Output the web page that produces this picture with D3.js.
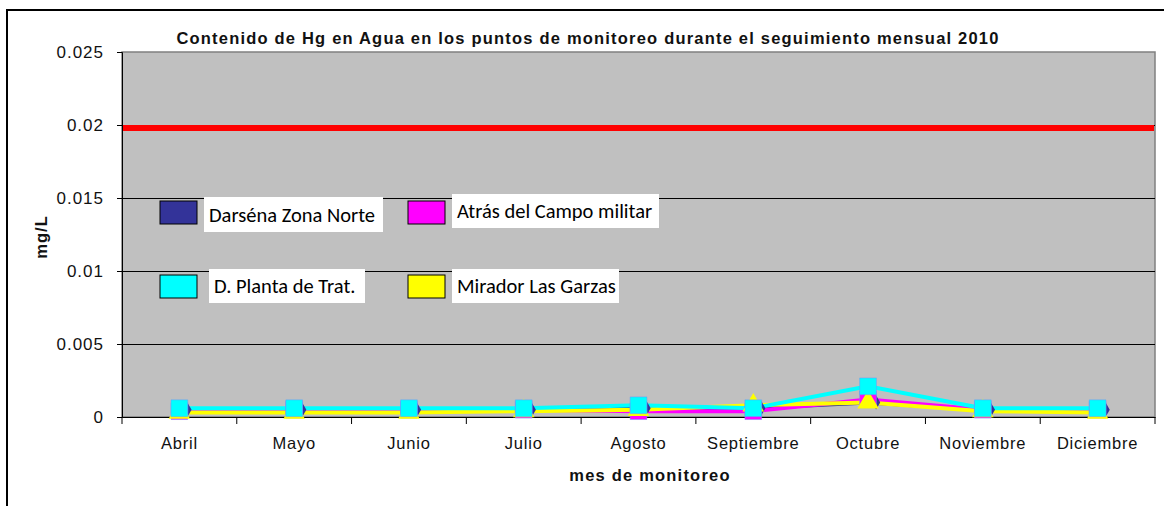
<!DOCTYPE html>
<html>
<head>
<meta charset="utf-8">
<script src="https://cdn.jsdelivr.net/npm/d3@7"></script>
<style>
body { margin: 0; background: white; }
svg text { font-family: Arial, "Liberation Sans", sans-serif; }
svg text.legend-label { font-family: Carlito, Lato, "Open Sans", sans-serif; }
</style>
</head>
<body>
<svg id="chart"></svg>
<script>
// data
var months = ["Abril", "Mayo", "Junio", "Julio", "Agosto", "Septiembre", "Octubre", "Noviembre", "Diciembre"];
var darsena = [0.0005, 0.0005, 0.0005, 0.0005, 0.0006, 0.0006, 0.0010, 0.0005, 0.0005];
var atras = [0.0004, 0.0005, 0.0005, 0.0005, 0.0004, 0.0004, 0.0012, 0.0005, 0.0005];
var mirador = [0.0003, 0.0003, 0.0003, 0.0004, 0.0005, 0.0008, 0.0010, 0.0004, 0.0003];
var planta = [0.0006, 0.0006, 0.0006, 0.0006, 0.0008, 0.0006, 0.0021, 0.0006, 0.0006];
var limite = 0.0198;
var yTicks = [0, 0.005, 0.01, 0.015, 0.02, 0.025];

var series = [
	{ name: "Darséna Zona Norte", values: darsena, color: "#333399", marker: "diamond", size: 60 },
	{ name: "Atrás del Campo militar", values: atras, color: "#ff00ff", marker: "square", size: 280 },
	{ name: "Mirador Las Garzas", values: mirador, color: "#ffff00", marker: "triangle", size: 200 },
	{ name: "D. Planta de Trat.", values: planta, color: "#00ffff", marker: "square", size: 280 }
];
var legendOrder = [
	{ s: 0, sx: 160, sy: 201, bx: 204, by: 197, bw: 179, bh: 35 },
	{ s: 1, sx: 408, sy: 201, bx: 452, by: 194, bw: 207, bh: 34 },
	{ s: 3, sx: 160, sy: 275, bx: 209, by: 269, bw: 156, bh: 34 },
	{ s: 2, sx: 408, sy: 275, bx: 452, by: 269, bw: 167, bh: 34 }
];

const width = 1164;
const height = 506;
const pLeft = 122, pRight = 1155, pTop = 52, pBottom = 417;

var svg = d3.select("#chart").attr("width", width).attr("height", height);

// outer frame
svg.append("path")
	.attr("d", "M7,506 V10 H1164")
	.attr("fill", "none").attr("stroke", "black").attr("stroke-width", 2);

var x = d3.scaleBand().domain(months).range([pLeft, pRight]);
var y = d3.scaleLinear().domain([0, 0.025]).range([pBottom, pTop]);

// plot area
svg.append("rect")
	.attr("x", pLeft).attr("y", pTop)
	.attr("width", pRight - pLeft).attr("height", pBottom - pTop)
	.attr("fill", "#c0c0c0").attr("stroke", "#808080").attr("stroke-width", 1.5);

// grid
svg.selectAll("line.grid")
	.data(yTicks.slice(1, -1))
	.enter().append("line")
	.attr("class", "grid")
	.attr("x1", pLeft).attr("x2", pRight)
	.attr("y1", function (d) { return Math.round(y(d)) + 0.5; })
	.attr("y2", function (d) { return Math.round(y(d)) + 0.5; })
	.attr("stroke", "black").attr("stroke-width", 1);

// y axis
var yAxis = svg.append("g")
	.attr("transform", "translate(" + pLeft + ",0)")
	.call(d3.axisLeft(y).tickValues(yTicks).tickFormat(function (d) { return String(+d.toFixed(3)); }).tickSize(5).tickPadding(13));
yAxis.select(".domain").attr("stroke", "black");
yAxis.selectAll("text").style("font-size", "17px").style("letter-spacing", "1px").attr("fill", "#111");

// x axis
var xAxis = svg.append("g")
	.attr("transform", "translate(0," + pBottom + ")")
	.call(d3.axisBottom(x).tickSize(0).tickPadding(20));
xAxis.select(".domain").attr("stroke", "black");
xAxis.selectAll("text").style("font-size", "16.5px").style("letter-spacing", "0.8px").attr("fill", "#111");
svg.selectAll("line.xtick")
	.data(months.concat(["end"]))
	.enter().append("line")
	.attr("class", "xtick")
	.attr("x1", function (d, i) { return pLeft + i * x.bandwidth(); })
	.attr("x2", function (d, i) { return pLeft + i * x.bandwidth(); })
	.attr("y1", pBottom).attr("y2", pBottom + 7)
	.attr("stroke", "black");

// limit line
svg.append("line")
	.attr("x1", pLeft + 1).attr("x2", pRight - 1)
	.attr("y1", y(limite)).attr("y2", y(limite))
	.attr("stroke", "#ff0000").attr("stroke-width", 6);

// series
var line = d3.line()
	.x(function (d, i) { return x(months[i]) + x.bandwidth() / 2; })
	.y(function (d) { return y(d); });

var symbols = { diamond: d3.symbolDiamond, square: d3.symbolSquare, triangle: d3.symbolTriangle };

series.forEach(function (s) {
	svg.append("path")
		.datum(s.values)
		.attr("d", line)
		.attr("fill", "none")
		.attr("stroke", s.color)
		.attr("stroke-width", 4);
});
series.forEach(function (s) {
	svg.selectAll(null)
		.data(s.values)
		.enter().append("path")
		.attr("transform", function (d, i) {
			return "translate(" + (x(months[i]) + x.bandwidth() / 2 + (s.marker === "diamond" ? 8 : 0)) + "," + y(d) + ")";
		})
		.attr("d", d3.symbol().type(symbols[s.marker]).size(s.size))
		.attr("fill", s.color)
		.attr("stroke", s.marker === "square" ? "#6699ff" : "none")
		.attr("stroke-width", 0.5);
});

// legend
var leg = svg.selectAll("g.legend")
	.data(legendOrder)
	.enter().append("g")
	.attr("class", "legend");
leg.append("rect")
	.attr("x", function (d) { return d.bx; }).attr("y", function (d) { return d.by; })
	.attr("width", function (d) { return d.bw; }).attr("height", function (d) { return d.bh; })
	.attr("fill", "white");
leg.append("rect")
	.attr("x", function (d) { return d.sx; }).attr("y", function (d) { return d.sy; })
	.attr("width", 37).attr("height", 23)
	.attr("fill", function (d) { return series[d.s].color; })
	.attr("stroke", "black").attr("stroke-width", 1);
leg.append("text")
	.attr("class", "legend-label")
	.attr("x", function (d) { return d.bx + 5; })
	.attr("y", function (d) { return d.by + d.bh / 2 + 7; })
	.style("font-size", "20.5px")
	.attr("fill", "black")
	.text(function (d) { return series[d.s].name; });

// titles
svg.append("text")
	.attr("x", 588).attr("y", 44)
	.attr("text-anchor", "middle")
	.style("font-size", "16.5px").style("letter-spacing", "1.2px").attr("font-weight", "bold")
	.attr("fill", "#111")
	.text("Contenido de Hg en Agua en los puntos de monitoreo durante el seguimiento mensual 2010");
svg.append("text")
	.attr("x", 650).attr("y", 481)
	.attr("text-anchor", "middle")
	.style("font-size", "16.5px").style("letter-spacing", "1.2px").attr("font-weight", "bold")
	.attr("fill", "#111")
	.text("mes de monitoreo");
svg.append("text")
	.attr("transform", "translate(47,237) rotate(-90)")
	.attr("text-anchor", "middle")
	.style("font-size", "16.5px").style("letter-spacing", "1px").attr("font-weight", "bold")
	.attr("fill", "#111")
	.text("mg/L");
</script>
</body>
</html>
